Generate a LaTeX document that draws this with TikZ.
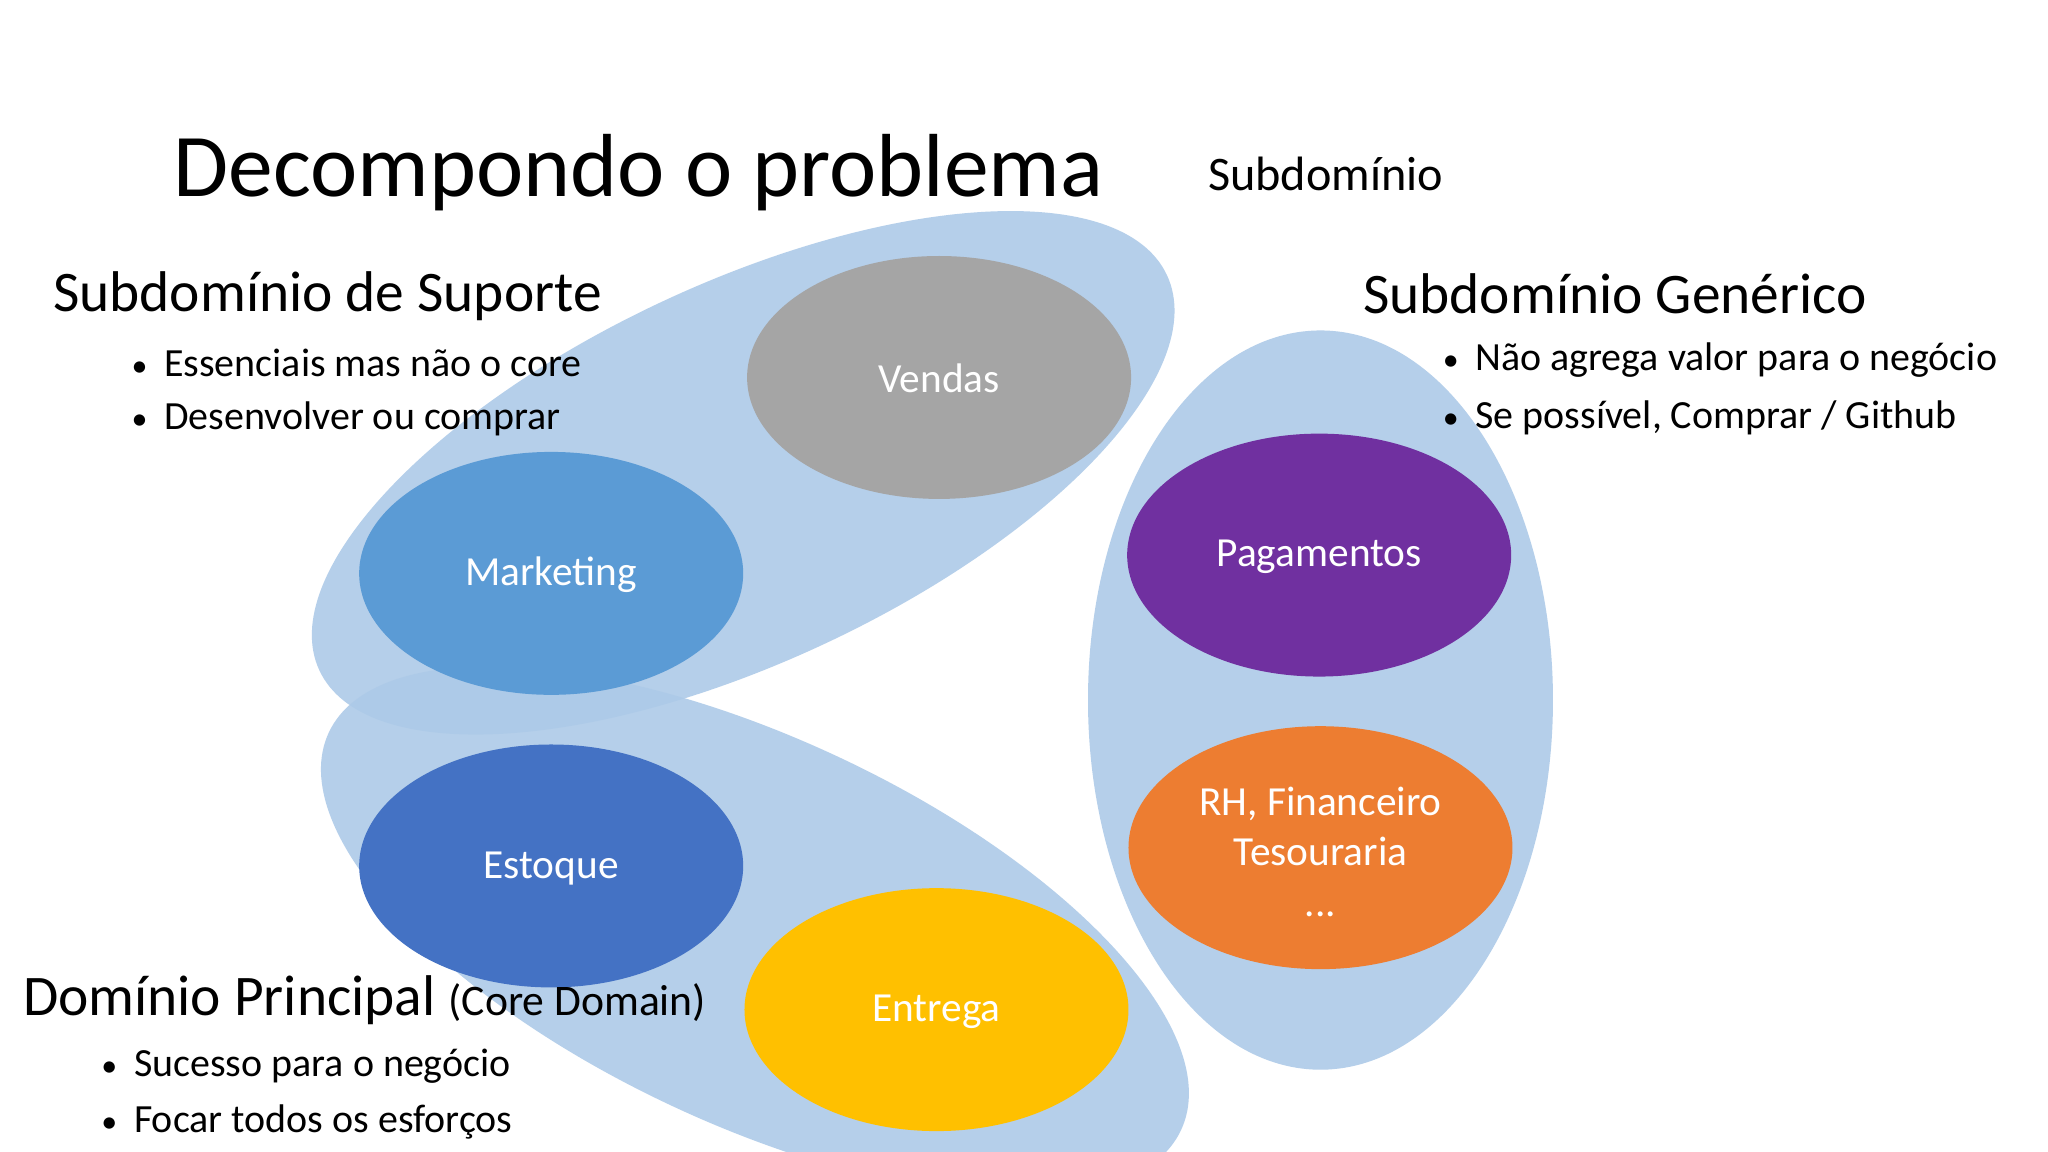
\documentclass[tikz,border=0pt]{standalone}
\usepackage{fontspec}
\setmainfont{Carlito}
\newcommand{\bul}{\makebox[0.25cm][l]{\scalebox{0.8}{•}}}
\begin{document}
\begin{tikzpicture}[x=0.01cm,y=-0.01cm,
  big/.style={fill=bigblue,fill opacity=0.9},
  small/.style={x radius=147,y radius=93},
  lbl/.style={text=white,font=\fontsize{9}{11}\selectfont,align=center},
  head/.style={anchor=west,inner sep=0pt,font=\fontsize{12.5}{15}\selectfont},
  item/.style={anchor=west,inner sep=0pt,font=\fontsize{8.7}{11}\selectfont}]
\definecolor{bigblue}{HTML}{ADCAE8}
\useasboundingbox (0,0) rectangle (1568,882);
\fill[white] (0,0) rectangle (1568,882);
% big ellipses
\coordinate (cr) at (1011,536);
\coordinate (ct) at (569,362);
\coordinate (cb) at (578,713);
\fill[big] (cr) ellipse [x radius=178,y radius=283];
\fill[big,rotate around={25:(ct)}] (ct) ellipse [x radius=358,y radius=145];
\fill[big,rotate around={-25:(cb)}] (cb) ellipse [x radius=360,y radius=148];
% small ellipses
\fill[fill={rgb,255:red,165;green,165;blue,165}] (719,289) ellipse [small];
\fill[fill={rgb,255:red,91;green,155;blue,213}] (422,439) ellipse [small];
\fill[fill={rgb,255:red,112;green,48;blue,160}] (1010,425) ellipse [small];
\fill[fill={rgb,255:red,237;green,125;blue,49}] (1011,649) ellipse [small];
\fill[fill={rgb,255:red,68;green,114;blue,196}] (422,663) ellipse [small];
\fill[fill={rgb,255:red,255;green,192;blue,0}] (717,773) ellipse [small];
\node[lbl] (vendas) at (719,290) {Vendas};
\node[lbl] (mkt) at (422,440) {Marketing};
\node[lbl] (pag) at (1010,426) {Pagamentos};
\node[lbl] (rh) at (1011,652) {RH, Financeiro\\Tesouraria\\...};
\node[lbl] (est) at (422,665) {Estoque};
\node[lbl] (ent) at (717,775) {Entrega};
% texts
\node[font=\fontsize{19.5}{24}\selectfont] (title) at (489,132) {Decompondo o problema};
\node[font=\fontsize{10.5}{13}\selectfont] (sub) at (1015,133) {Subdomínio};
\node[head] (hs) at (40,227) {Subdomínio de Suporte};
\node[item] (s1) at (100,278) {\bul Essenciais mas não o core};
\node[item] (s2) at (100,321) {\bul Desenvolver ou comprar};
\node[head] (hg) at (1043,225) {Subdomínio Genérico};
\node[item] (g1) at (1104,276) {\bul Não agrega valor para o negócio};
\node[item] (g2) at (1104,320) {\bul Se possível, Comprar / Github};
\node[head] (hp) at (17,766) {Domínio Principal \fontsize{9.5}{11}\selectfont(Core Domain)};
\node[item] (p1) at (77,816) {\bul Sucesso para o negócio};
\node[item] (p2) at (77,859) {\bul Focar todos os esforços};
\end{tikzpicture}
\end{document}
